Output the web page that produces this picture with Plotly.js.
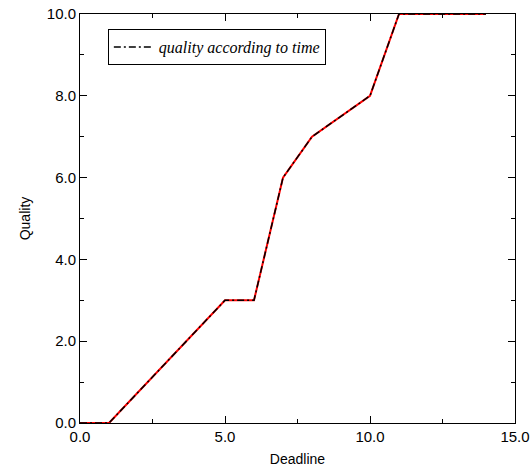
<!DOCTYPE html>
<html><head><meta charset="utf-8">
<script src="https://cdn.plot.ly/plotly-3.0.1.min.js"></script>
<style>html,body{margin:0;padding:0;background:#fff}</style>
</head><body>
<div id="chart" style="width:532px;height:470px"></div>
<script>
const deadline = [0, 1, 5, 6, 7, 8, 10, 11, 14];
const quality = [0, 0, 3, 3, 6, 7, 8, 10, 10];
const seriesName = 'quality according to time';

const traces = [
  {x: deadline, y: quality, mode: 'lines', line: {color: '#ff0000', width: 2}, showlegend: false, hoverinfo: 'skip'},
  {x: deadline, y: quality, mode: 'lines', name: seriesName, line: {color: '#000000', width: 1.5, dash: '7px,3px,2px,3px'}}
];

const axisBase = {
  showgrid: false, zeroline: false, showline: true, linecolor: '#000', linewidth: 1,
  mirror: 'ticks', ticks: 'inside', ticklen: 7, tickcolor: '#000', tickwidth: 1,
  tickformat: '.1f', tickfont: {family: 'Liberation Sans, Arial, sans-serif', size: 15, color: '#000'}
};

const layout = {
  width: 532, height: 470,
  margin: {l: 80, r: 17, t: 14, b: 47},
  paper_bgcolor: '#fff', plot_bgcolor: '#fff',
  xaxis: Object.assign({}, axisBase, {
    range: [0, 15], dtick: 5, tick0: 0,
    minor: {dtick: 2.5, ticks: 'inside', ticklen: 4, tickcolor: '#000'},
    title: {text: 'Deadline', font: {family: 'Liberation Sans, Arial, sans-serif', size: 14, color: '#000'}, standoff: 10}
  }),
  yaxis: Object.assign({}, axisBase, {
    range: [0, 10], dtick: 2, tick0: 0,
    minor: {dtick: 1, ticks: 'inside', ticklen: 4, tickcolor: '#000'},
    title: {text: 'Quality', font: {family: 'Liberation Sans, Arial, sans-serif', size: 14, color: '#000'}, standoff: 12}
  }),
  showlegend: true,
  legend: {
    x: 0.064, y: 0.963, xanchor: 'left', yanchor: 'top',
    bgcolor: '#fff', bordercolor: '#000', borderwidth: 1,
    font: {family: 'Liberation Serif, Times New Roman, serif', size: 16, color: '#000', style: 'italic'},
    itemwidth: 40
  }
};

Plotly.newPlot('chart', traces, layout, {displayModeBar: false, staticPlot: true});
</script>
</body></html>
